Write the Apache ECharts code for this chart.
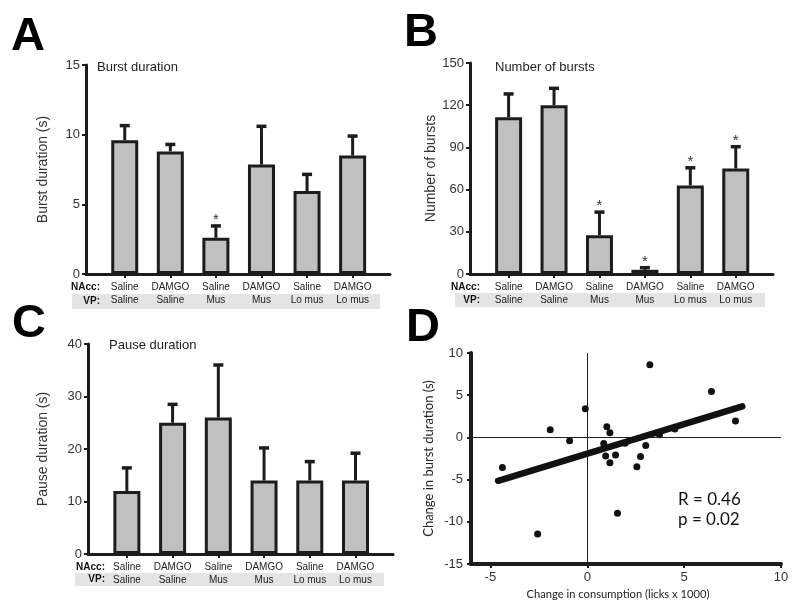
<!DOCTYPE html>
<html>
<head>
<meta charset="utf-8">
<script src="https://cdn.jsdelivr.net/npm/echarts@6/dist/echarts.min.js"></script>
<style>
html,body{margin:0;padding:0;background:#fff;}
#chart{width:800px;height:613px;}
</style>
</head>
<body>
<div id="chart"></div>
<script>
// ---------- data ----------
const nacc = ['Saline','DAMGO','Saline','DAMGO','Saline','DAMGO'];
const vp = ['Saline','Saline','Mus','Mus','Lo mus','Lo mus'];

const burstDur = [9.6, 8.8, 2.6, 7.85, 5.95, 8.5];
const burstDurSem = [1.05, 0.5, 0.85, 2.75, 1.2, 1.4];
const burstDurSig = [false, false, true, false, false, false];

const numBursts = [111.5, 120, 27.5, 3, 63, 75];
const numBurstsSem = [16.5, 12, 16.5, 1.5, 12.5, 15.5];
const numBurstsSig = [false, false, true, true, true, true];

const pauseDur = [12, 25, 26, 14, 14, 14];
const pauseDurSem = [4.4, 3.5, 10, 6.2, 3.6, 5.2];
const pauseDurSig = [false, false, false, false, false, false];

const barTicksA = [0, 5, 10, 15];
const barTicksB = [0, 30, 60, 90, 120, 150];
const barTicksC = [0, 10, 20, 30, 40];

const scatterX = [-4.38, -2.56, -1.91, -0.91, -0.10, 1.01, 1.17, 0.85, 0.95, 1.17, 1.46, 1.56, 1.95, 2.56, 2.75, 3.02, 3.23, 3.73, 4.52, 6.41, 7.65];
const scatterY = [-3.56, -11.46, 0.91, -0.40, 3.40, 1.26, 0.55, -0.72, -2.21, -3.0, -2.09, -9.0, -0.7, -3.48, -2.25, -0.95, 8.62, 0.32, 1.0, 5.45, 1.94];
const regX = [-4.6, 8.0];
const regY = [-5.14, 3.68];
const xTicksD = [-5, 0, 5, 10];
const stats = ['R = 0.46', 'p = 0.02'];

// ---------- chart ----------
const AR = 'Liberation Sans, Arial, Helvetica, sans-serif';
const chart = echarts.init(document.getElementById('chart'));
const ink = '#1c1c1c';
const catIdx = [0,1,2,3,4,5];

const grids = [];
const xAxes = [];
const yAxes = [];
const series = [];

function barPanel(gi, grid, ticks, vals, sems, sig, yName, nameGap) {
  grids.push(grid);
  xAxes.push({
    gridIndex: gi, type: 'value', min: -0.85, max: 5.82,
    splitLine: {show: false},
    axisLine: {show: true, onZero: false, lineStyle: {color: ink, width: 3}},
    axisTick: {show: true, customValues: catIdx, length: 4, lineStyle: {color: ink, width: 2}},
    axisLabel: {
      customValues: catIdx, margin: 6, hideOverlap: false,
      formatter: function (v) { const i = Math.round(v); return '{a|' + nacc[i] + '}\n{a|' + vp[i] + '}'; },
      rich: {a: {fontFamily: AR, fontSize: 10, color: '#222', lineHeight: 13.5}}
    }
  });
  yAxes.push({
    gridIndex: gi, type: 'value', min: ticks[0], max: ticks[ticks.length - 1],
    interval: ticks[1] - ticks[0],
    splitLine: {show: false},
    axisLine: {show: true, onZero: false, lineStyle: {color: ink, width: 3}},
    axisTick: {show: true, length: 4, lineStyle: {color: ink, width: 2}},
    axisLabel: {fontFamily: AR, fontSize: 13, color: '#333', margin: 6},
    name: yName, nameLocation: 'middle', nameGap: nameGap,
    nameTextStyle: {fontFamily: AR, fontSize: 14, color: '#333'}
  });
  series.push({
    type: 'custom', xAxisIndex: gi, yAxisIndex: gi, z: 1,
    data: vals.map((v, i) => [i, v, v + sems[i], sig[i] ? 1 : 0]),
    renderItem: function (params, api) {
      const base = api.coord([api.value(0), api.value(1)]);
      const top = api.coord([api.value(0), api.value(2)]);
      const children = [
        {type: 'line', shape: {x1: base[0], y1: base[1], x2: top[0], y2: top[1]}, style: {stroke: ink, lineWidth: 3}},
        {type: 'line', shape: {x1: top[0] - 5, y1: top[1], x2: top[0] + 5, y2: top[1]}, style: {stroke: ink, lineWidth: 3.5}}
      ];
      if (api.value(3)) {
        children.push({type: 'text', style: {text: '*', x: top[0], y: top[1] - 6, align: 'center', verticalAlign: 'middle', fontFamily: AR, fontSize: 15, fill: '#333'}});
      }
      return {type: 'group', children: children};
    }
  });
  series.push({
    type: 'bar', xAxisIndex: gi, yAxisIndex: gi, z: 3, barWidth: 27,
    data: vals.map((v, i) => [i, v]),
    itemStyle: {color: '#c0c0c0', borderColor: ink, borderWidth: 3},
    emphasis: {disabled: true}
  });
}

barPanel(0, {left: 86, right: 410, top: 65, bottom: 339}, barTicksA, burstDur, burstDurSem, burstDurSig, 'Burst duration (s)', 36);
barPanel(1, {left: 470, right: 27, top: 63, bottom: 339}, barTicksB, numBursts, numBurstsSem, numBurstsSig, 'Number of bursts', 27);
barPanel(2, {left: 88, right: 407, top: 344, bottom: 59}, barTicksC, pauseDur, pauseDurSem, pauseDurSig, 'Pause duration (s)', 38);

// Panel D
grids.push({left: 471, right: 19, top: 353, bottom: 49});
xAxes.push({
  gridIndex: 3, type: 'value', min: -6, max: 10,
  splitLine: {show: false},
  axisLine: {show: true, onZero: false, lineStyle: {color: ink, width: 4}},
  axisTick: {show: true, customValues: xTicksD, length: 4, lineStyle: {color: ink, width: 2}},
  axisLabel: {customValues: xTicksD, fontFamily: AR, fontSize: 13, color: '#333', margin: 7},
  name: 'Change in consumption (licks x 1000)', nameLocation: 'middle', nameGap: 25,
  nameTextStyle: {fontFamily: 'Lato, Open Sans, sans-serif', fontSize: 11.2, color: '#222', padding: [0, 16, 0, 0]}
});
yAxes.push({
  gridIndex: 3, type: 'value', min: -15, max: 10, interval: 5,
  splitLine: {show: false},
  axisLine: {show: true, onZero: false, lineStyle: {color: ink, width: 4}},
  axisTick: {show: true, length: 4, lineStyle: {color: ink, width: 2}},
  axisLabel: {fontFamily: AR, fontSize: 13, color: '#333', margin: 8},
  name: 'Change in burst duration (s)', nameLocation: 'middle', nameGap: 36,
  nameTextStyle: {fontFamily: 'Lato, Open Sans, sans-serif', fontSize: 13, color: '#222'}
});
series.push({
  type: 'scatter', xAxisIndex: 3, yAxisIndex: 3, z: 4,
  data: scatterX.map((x, i) => [x, scatterY[i]]),
  symbolSize: 7, itemStyle: {color: '#111', opacity: 1},
  markLine: {
    silent: true, symbol: ['none', 'none'], label: {show: false},
    lineStyle: {color: '#222', width: 1, type: 'solid'},
    data: [{xAxis: 0}, {yAxis: 0}]
  }
});
series.push({
  type: 'line', xAxisIndex: 3, yAxisIndex: 3, z: 5,
  data: regX.map((x, i) => [x, regY[i]]),
  showSymbol: false, symbol: 'none',
  lineStyle: {color: '#111', width: 6.5, cap: 'round'}
});

const letterStyle = {fontFamily: AR, fontWeight: 'bold', fontSize: 47, fill: '#000', verticalAlign: 'top', align: 'left'};
const graphic = [
  {type: 'text', left: 11, top: 14, style: Object.assign({text: 'A'}, letterStyle)},
  {type: 'text', left: 404, top: 10, style: Object.assign({text: 'B'}, letterStyle)},
  {type: 'text', left: 12, top: 301, style: Object.assign({text: 'C'}, letterStyle)},
  {type: 'text', left: 406, top: 305, style: Object.assign({text: 'D'}, letterStyle)},
  // panel titles
  {type: 'text', x: 97, y: 67, style: {text: 'Burst duration', fontFamily: AR, fontSize: 13, fill: '#222', verticalAlign: 'middle'}},
  {type: 'text', x: 495, y: 67, style: {text: 'Number of bursts', fontFamily: AR, fontSize: 13, fill: '#222', verticalAlign: 'middle'}},
  {type: 'text', x: 109, y: 345, style: {text: 'Pause duration', fontFamily: AR, fontSize: 13, fill: '#222', verticalAlign: 'middle'}},
  // VP bands
  {type: 'rect', z: -10, shape: {x: 72, y: 294, width: 308, height: 15}, style: {fill: '#e4e4e4'}},
  {type: 'rect', z: -10, shape: {x: 455, y: 293, width: 310, height: 14}, style: {fill: '#e4e4e4'}},
  {type: 'rect', z: -10, shape: {x: 75, y: 573, width: 309, height: 13}, style: {fill: '#e4e4e4'}},
  // row headers
  {type: 'text', x: 100, y: 287, style: {text: 'NAcc:', fontFamily: AR, fontSize: 10, fontWeight: 'bold', fill: '#111', align: 'right', verticalAlign: 'middle'}},
  {type: 'text', x: 100, y: 301, style: {text: 'VP:', fontFamily: AR, fontSize: 10, fontWeight: 'bold', fill: '#111', align: 'right', verticalAlign: 'middle'}},
  {type: 'text', x: 480, y: 287, style: {text: 'NAcc:', fontFamily: AR, fontSize: 10, fontWeight: 'bold', fill: '#111', align: 'right', verticalAlign: 'middle'}},
  {type: 'text', x: 480, y: 300, style: {text: 'VP:', fontFamily: AR, fontSize: 10, fontWeight: 'bold', fill: '#111', align: 'right', verticalAlign: 'middle'}},
  {type: 'text', x: 105, y: 567, style: {text: 'NAcc:', fontFamily: AR, fontSize: 10, fontWeight: 'bold', fill: '#111', align: 'right', verticalAlign: 'middle'}},
  {type: 'text', x: 105, y: 579, style: {text: 'VP:', fontFamily: AR, fontSize: 10, fontWeight: 'bold', fill: '#111', align: 'right', verticalAlign: 'middle'}},
  // stats
  {type: 'text', x: 678, y: 500, style: {text: stats[0], fontFamily: 'Lato, Open Sans, sans-serif', fontSize: 17, fill: '#111', verticalAlign: 'middle'}},
  {type: 'text', x: 678, y: 520, style: {text: stats[1], fontFamily: 'Lato, Open Sans, sans-serif', fontSize: 17, fill: '#111', verticalAlign: 'middle'}}
];

chart.setOption({
  animation: false,
  backgroundColor: '#fff',
  grid: grids,
  xAxis: xAxes,
  yAxis: yAxes,
  series: series,
  graphic: graphic
});
</script>
</body>
</html>
